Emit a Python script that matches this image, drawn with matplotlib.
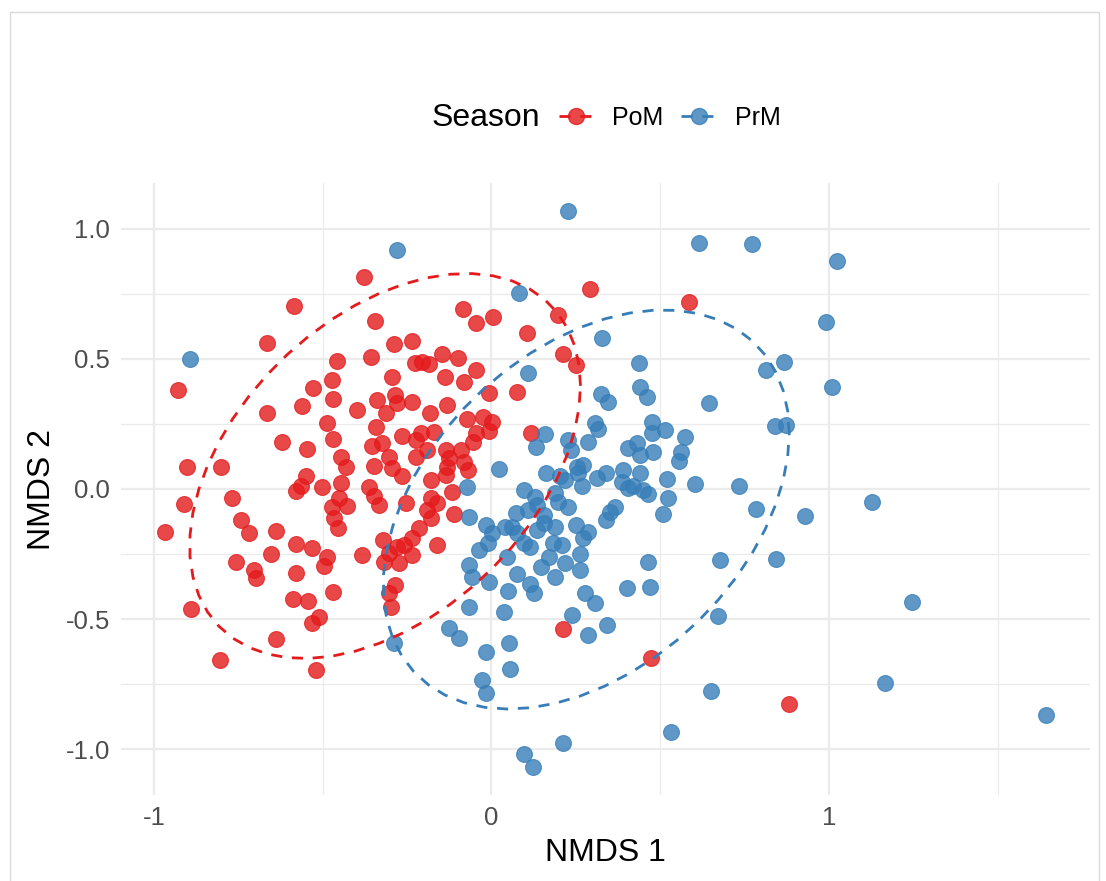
import numpy as np
import matplotlib
matplotlib.use("Agg")
import matplotlib.pyplot as plt
from matplotlib.lines import Line2D
from matplotlib.colors import to_rgba

# NMDS scores, one list per axis and season
pom_nmds1 = [
    -0.377, 0.291, 0.585, -0.344, -0.288, -0.234, -0.083, -0.047, 0.006, -0.457,
    -0.356, -0.226, -0.205, -0.184, -0.145, -0.098, -0.047, -0.294, -0.139, -0.080,
    -0.472, 0.196, 0.104, 0.211, 0.252, -0.665, -0.585, -0.929, -0.528, -0.561,
    -0.665, -0.620, -0.546, -0.902, -0.801, -0.549, -0.564, -0.579, -0.911, -0.769,
    -0.742, -0.967, -0.718, -0.638, -0.579, -0.531, -0.653, -0.757, -0.703, -0.697,
    -0.501, -0.579, -0.588, -0.543, -0.531, -0.890, -0.638, -0.804, -0.519, -0.469,
    -0.398, -0.338, -0.285, -0.279, -0.234, -0.131, -0.181, -0.312, -0.341, -0.487,
    -0.071, -0.024, -0.469, -0.264, -0.208, -0.223, -0.169, -0.353, -0.323, -0.190,
    -0.136, -0.089, -0.045, -0.056, -0.445, -0.430, -0.347, -0.303, -0.294, -0.223,
    -0.125, -0.131, -0.080, -0.068, -0.264, -0.178, -0.134, -0.445, -0.362, -0.347,
    -0.332, -0.451, -0.427, -0.472, -0.252, -0.178, -0.160, -0.116, -0.190, -0.178,
    -0.110, -0.466, -0.454, -0.214, -0.234, -0.320, -0.279, -0.258, -0.303, -0.160,
    -0.487, -0.383, -0.234, -0.318, -0.273, -0.496, -0.285, -0.303, -0.469, -0.510,
    -0.297, 0.077, -0.006, 0.003, -0.006, 0.116, 0.211, 0.472, 0.881,
]
pom_nmds2 = [
    0.815, 0.769, 0.719, 0.646, 0.558, 0.569, 0.692, 0.638, 0.662, 0.492,
    0.508, 0.485, 0.488, 0.481, 0.519, 0.504, 0.458, 0.431, 0.431, 0.412,
    0.419, 0.669, 0.600, 0.519, 0.477, 0.562, 0.704, 0.381, 0.388, 0.319,
    0.292, 0.181, 0.154, 0.085, 0.085, 0.050, 0.012, -0.008, -0.058, -0.035,
    -0.119, -0.165, -0.169, -0.162, -0.212, -0.227, -0.250, -0.281, -0.312, -0.342,
    0.008, -0.323, -0.423, -0.431, -0.515, -0.462, -0.577, -0.658, -0.696, 0.346,
    0.304, 0.342, 0.362, 0.331, 0.335, 0.323, 0.292, 0.292, 0.238, 0.254,
    0.269, 0.277, 0.192, 0.204, 0.215, 0.188, 0.219, 0.165, 0.177, 0.150,
    0.150, 0.150, 0.215, 0.181, 0.123, 0.085, 0.088, 0.123, 0.081, 0.123,
    0.119, 0.085, 0.104, 0.073, 0.050, 0.035, 0.054, 0.023, 0.008, -0.027,
    -0.062, -0.035, -0.065, -0.069, -0.054, -0.035, -0.054, -0.012, -0.081, -0.112,
    -0.096, -0.112, -0.150, -0.150, -0.188, -0.196, -0.223, -0.215, -0.246, -0.215,
    -0.262, -0.254, -0.254, -0.281, -0.285, -0.296, -0.369, -0.400, -0.396, -0.492,
    -0.454, 0.373, 0.369, 0.258, 0.223, 0.215, -0.538, -0.650, -0.828,
]
prm_nmds1 = [
    -0.893, -0.279, 0.228, 0.083, 0.329, 0.436, 0.107, 0.326, 0.344, 0.439,
    0.460, 0.306, 0.315, 0.160, 0.131, 0.228, 0.285, 0.237, 0.404, 0.430,
    0.439, 0.021, 0.163, 0.202, 0.217, 0.255, 0.270, 0.258, 0.312, 0.338,
    0.267, 0.389, 0.386, 0.439, 0.404, 0.418, 0.448, 0.098, 0.128, 0.187,
    0.134, 0.196, 0.226, 0.365, 0.350, 0.338, 0.074, 0.107, 0.157, 0.157,
    -0.015, 0.003, -0.009, 0.039, 0.062, 0.077, 0.136, 0.187, 0.252, 0.285,
    0.270, 0.098, 0.113, 0.181, 0.208, 0.261, -0.036, 0.047, 0.217, 0.172,
    0.148, -0.071, -0.065, -0.065, -0.288, -0.125, -0.095, -0.065, -0.059, -0.015,
    -0.027, -0.015, -0.006, 0.050, 0.077, 0.113, 0.125, 0.187, 0.261, 0.276,
    0.306, 0.401, 0.036, 0.240, 0.285, 0.341, 0.053, 0.056, 0.211, 0.098,
    0.122, 0.614, 0.772, 1.025, 0.992, 0.866, 0.815, 1.008, 0.645, 0.840,
    0.873, 0.475, 0.475, 0.513, 0.574, 0.562, 0.556, 0.480, 0.521, 0.602,
    0.734, 0.465, 0.522, 0.507, 1.129, 0.785, 0.928, 0.465, 0.678, 0.843,
    1.245, 0.470, 0.670, 0.652, 1.165, 0.533, 1.643,
]
prm_nmds2 = [
    0.500, 0.919, 1.069, 0.754, 0.581, 0.485, 0.446, 0.365, 0.335, 0.392,
    0.354, 0.254, 0.231, 0.212, 0.162, 0.188, 0.181, 0.150, 0.158, 0.177,
    0.131, 0.077, 0.062, 0.050, 0.035, 0.085, 0.092, 0.062, 0.042, 0.062,
    0.012, 0.073, 0.027, 0.062, 0.004, 0.012, -0.004, -0.004, -0.031, -0.015,
    -0.062, -0.050, -0.069, -0.069, -0.088, -0.119, -0.092, -0.081, -0.100, -0.131,
    -0.138, -0.169, -0.208, -0.146, -0.146, -0.169, -0.158, -0.146, -0.138, -0.165,
    -0.188, -0.208, -0.223, -0.208, -0.215, -0.250, -0.235, -0.262, -0.285, -0.262,
    -0.300, 0.008, -0.108, -0.292, -0.592, -0.535, -0.573, -0.454, -0.338, -0.627,
    -0.735, -0.785, -0.358, -0.392, -0.327, -0.365, -0.400, -0.338, -0.312, -0.400,
    -0.438, -0.381, -0.473, -0.485, -0.562, -0.523, -0.592, -0.692, -0.977, -1.019,
    -1.069, 0.944, 0.941, 0.878, 0.643, 0.488, 0.456, 0.391, 0.331, 0.241,
    0.246, 0.257, 0.216, 0.228, 0.199, 0.143, 0.106, 0.143, 0.040, 0.018,
    0.013, -0.019, -0.034, -0.096, -0.049, -0.075, -0.104, -0.279, -0.272, -0.269,
    -0.435, -0.376, -0.487, -0.776, -0.747, -0.935, -0.869,
]

seasons = ["PoM", "PrM"]
colors = {"PoM": "#E41A1C", "PrM": "#377EB8"}


def trob_cov(pts, nu=5, maxit=25, tol=0.01):
    # multivariate t estimate of location / scatter (like MASS::cov.trob)
    n, p = pts.shape
    loc = pts.mean(axis=0)
    w = np.ones(n)
    for _ in range(maxit):
        w0 = w
        X = pts - loc
        S = (X * (w / w.sum())[:, None]).T @ X
        Q = np.einsum("ij,jk,ik->i", X, np.linalg.inv(S), X)
        w = (nu + p) / (nu + Q)
        loc = (w[:, None] * pts).sum(axis=0) / w.sum()
        if np.all(np.abs(w - w0) < tol):
            break
    X = pts - loc
    cov = (X * w[:, None]).T @ X / n
    return loc, cov


def ellipse_path(x, y, level=0.95, segments=51):
    pts = np.column_stack([x, y])
    loc, cov = trob_cov(pts)
    d2 = len(x) - 1
    fq = d2 / 2 * ((1 - level) ** (-2 / d2) - 1)
    radius = np.sqrt(2 * fq)
    ang = np.linspace(0, 2 * np.pi, segments + 1)
    circ = np.column_stack([np.cos(ang), np.sin(ang)])
    L = np.linalg.cholesky(cov)
    ell = loc + radius * circ @ L.T
    return ell[:, 0], ell[:, 1]


data = {
    "PoM": (np.array(pom_nmds1), np.array(pom_nmds2)),
    "PrM": (np.array(prm_nmds1), np.array(prm_nmds2)),
}

W, H = 1106, 881
fig = plt.figure(figsize=(W / 100, H / 100), dpi=100)
ax = fig.add_axes([121 / W, 1 - 795 / H, 969 / W, 612 / H])

dash = (0, (4, 3.5))
allx, ally = [], []
for s in seasons:
    x, y = data[s]
    ax.scatter(x, y, s=130, color=colors[s], alpha=0.8, edgecolors=colors[s],
               linewidths=0.8, zorder=3)
    ex, ey = ellipse_path(x, y)
    ax.plot(ex, ey, color=colors[s], lw=2.0, linestyle=dash, zorder=4)
    allx += list(x) + list(ex)
    ally += list(y) + list(ey)

xr = max(allx) - min(allx)
yr = max(ally) - min(ally)
ax.set_xlim(min(allx) - 0.05 * xr, max(allx) + 0.05 * xr)
ax.set_ylim(min(ally) - 0.05 * yr, max(ally) + 0.05 * yr)

ax.set_xticks([-1, 0, 1])
ax.set_xticklabels(["-1", "0", "1"])
ax.set_yticks([-1.0, -0.5, 0.0, 0.5, 1.0])
ax.set_yticklabels(["-1.0", "-0.5", "0.0", "0.5", "1.0"])
ax.set_xticks([-0.5, 0.5, 1.5], minor=True)
ax.set_yticks([-0.75, -0.25, 0.25, 0.75], minor=True)
ax.grid(which="major", color="#EBEBEB", lw=1.6)
ax.grid(which="minor", color="#EBEBEB", lw=0.9)
ax.set_axisbelow(True)
for sp in ax.spines.values():
    sp.set_visible(False)
ax.tick_params(which="both", length=0, labelsize=18.5, labelcolor="#4D4D4D", pad=8)
for lab in ax.get_xticklabels() + ax.get_yticklabels():
    lab.set_family("Liberation Sans")
ax.set_xlabel("NMDS 1", fontsize=23, family="Liberation Sans", labelpad=6)
ax.set_ylabel("NMDS 2", fontsize=23, family="Liberation Sans", labelpad=6)

handles = [Line2D([], [], color=colors[s], lw=2.0, linestyle=dash,
                  marker="o", markersize=11.5,
                  markerfacecolor=to_rgba(colors[s], 0.8),
                  markeredgecolor=to_rgba(colors[s], 0.8)) for s in seasons]
fig.text(432 / W, 1 - 118 / H, "Season", fontsize=23, family="Liberation Sans",
         va="center", ha="left")
fig.legend(handles, seasons, loc="center left", bbox_to_anchor=(536 / W, 1 - 118 / H),
           ncol=2, frameon=False, handlelength=1.4, handletextpad=0.75,
           columnspacing=0.7, prop={"family": "Liberation Sans", "size": 18})

# light frame around the screenshot
fig.add_artist(plt.Rectangle((10 / W, -0.01), 1089 / W, 1.0 - 12 / H + 0.01,
                             transform=fig.transFigure, fill=False,
                             edgecolor="#DADADA", lw=1))

fig.savefig("out.png", dpi=100)
